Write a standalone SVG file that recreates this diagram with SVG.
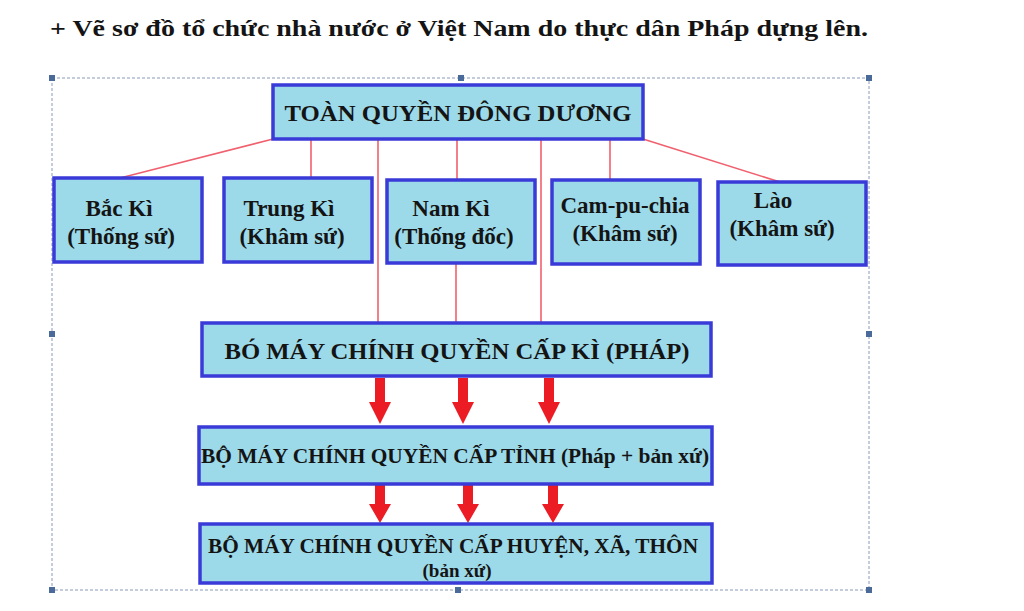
<svg xmlns="http://www.w3.org/2000/svg" width="1024" height="611" viewBox="0 0 1024 611">
<style>
.bx{fill:#9cd9e9;stroke:#3a3ad8;stroke-width:3.5}
.t{font-family:"Liberation Serif","Times New Roman",serif;font-weight:bold;fill:#141414;text-anchor:middle}
.ln{stroke:#f0606e;stroke-width:1.6;fill:none}
.ar{fill:#ec1c24}
.h{fill:#4a6a99}
</style>
<defs>
<path id="arr" d="M-5,0 H5 V24 H11 L0,46 L-11,24 H-5 Z"/>
<path id="arr2" d="M-5,0 H5 V19 H11 L0,38 L-11,19 H-5 Z"/>
</defs>
<rect width="1024" height="611" fill="#fff"/>
<text x="50" y="36" class="t" style="text-anchor:start;font-size:24px" textLength="818" lengthAdjust="spacingAndGlyphs">+ Vẽ sơ đồ tổ chức nhà nước ở Việt Nam do thực dân Pháp dựng lên.</text>
<g id="frame">
<rect x="52" y="78" width="817" height="512" fill="none" stroke="#8a9ab8" stroke-width="1" stroke-dasharray="3,2"/>
<rect class="h" x="49" y="75" width="6" height="6"/><rect class="h" x="458" y="75" width="6" height="6"/><rect class="h" x="866" y="75" width="6" height="6"/>
<rect class="h" x="49" y="331" width="6" height="6"/><rect class="h" x="866" y="331" width="6" height="6"/>
<rect class="h" x="49" y="587" width="6" height="6"/><rect class="h" x="455" y="587" width="6" height="6"/><rect class="h" x="866" y="587" width="6" height="6"/>
</g>
<g id="connectors">
<path class="ln" d="M273,139 L120,178"/>
<path class="ln" d="M311,139 V178"/>
<path class="ln" d="M378,139 V323"/>
<path class="ln" d="M457,139 V180"/>
<path class="ln" d="M456,263 V323"/>
<path class="ln" d="M541,139 V323"/>
<path class="ln" d="M610,139 V180"/>
<path class="ln" d="M643,139 L780,182"/>
<use href="#arr" class="ar" x="380" y="378"/>
<use href="#arr" class="ar" x="463" y="378"/>
<use href="#arr" class="ar" x="549" y="378"/>
<use href="#arr2" class="ar" x="380" y="485"/>
<use href="#arr2" class="ar" x="468" y="485"/>
<use href="#arr2" class="ar" x="553" y="485"/>
</g>
<g id="toan-quyen">
<rect class="bx" x="273" y="85" width="370" height="54"/>
<text class="t" x="458" y="121" style="font-size:24px" textLength="347" lengthAdjust="spacingAndGlyphs">TOÀN QUYỀN ĐÔNG DƯƠNG</text>
</g>
<g id="bac-ki">
<rect class="bx" x="54" y="178" width="148" height="84"/>
<text class="t" x="119" y="216" style="font-size:23px">Bắc Kì</text>
<text class="t" x="121" y="244" style="font-size:23px">(Thống sứ)</text>
</g>
<g id="trung-ki">
<rect class="bx" x="224" y="178" width="148" height="84"/>
<text class="t" x="289" y="216" style="font-size:23px">Trung Kì</text>
<text class="t" x="292" y="244" style="font-size:23px">(Khâm sứ)</text>
</g>
<g id="nam-ki">
<rect class="bx" x="387" y="180" width="148" height="83"/>
<text class="t" x="451" y="216" style="font-size:23px">Nam Kì</text>
<text class="t" x="454" y="244" style="font-size:23px">(Thống đốc)</text>
</g>
<g id="cam-pu-chia">
<rect class="bx" x="552" y="180" width="148" height="84"/>
<text class="t" x="625" y="213" style="font-size:23px">Cam-pu-chia</text>
<text class="t" x="625" y="241" style="font-size:23px">(Khâm sứ)</text>
</g>
<g id="lao">
<rect class="bx" x="718" y="182" width="148" height="83"/>
<text class="t" x="773" y="208" style="font-size:23px">Lào</text>
<text class="t" x="782" y="236" style="font-size:23px">(Khâm sứ)</text>
</g>
<g id="cap-ki">
<rect class="bx" x="202" y="323" width="509" height="53"/>
<text class="t" x="457" y="359" style="font-size:23px" textLength="465" lengthAdjust="spacingAndGlyphs">BÓ MÁY CHÍNH QUYỀN CẤP KÌ (PHÁP)</text>
</g>
<g id="cap-tinh">
<rect class="bx" x="199" y="427" width="513" height="57"/>
<text class="t" x="455" y="463" style="font-size:21px" textLength="508" lengthAdjust="spacingAndGlyphs">BỘ MÁY CHÍNH QUYỀN CẤP TỈNH (Pháp + bản xứ)</text>
</g>
<g id="cap-huyen">
<rect class="bx" x="200" y="524" width="512" height="59"/>
<text class="t" x="453" y="553" style="font-size:21px" textLength="490" lengthAdjust="spacingAndGlyphs">BỘ MÁY CHÍNH QUYỀN CẤP HUYỆN, XÃ, THÔN</text>
<text class="t" x="457" y="577" style="font-size:19px">(bản xứ)</text>
</g>
</svg>
